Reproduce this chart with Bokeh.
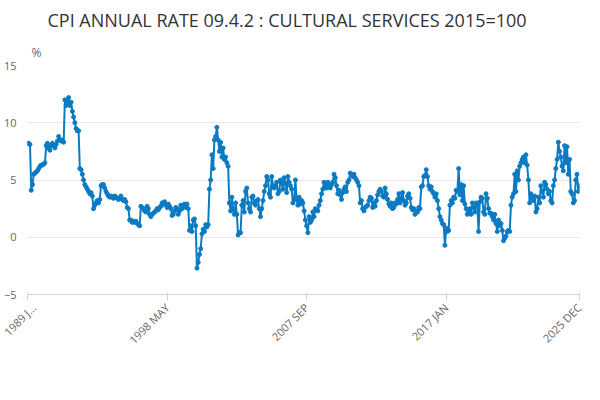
from bokeh.plotting import figure
from bokeh.models import FixedTicker, Legend, LegendItem, Title, ColumnDataSource, Label
from bokeh.embed import file_html
from bokeh.resources import INLINE
import math

values = [
8.2,8.2,8.1,4.1,4.6,5.5,5.6,5.7,5.8,6.0,6.2,6.3,
6.3,6.4,6.5,8.0,8.2,7.8,7.6,8.0,8.2,8.0,7.8,8.1,
8.4,8.8,8.5,8.4,8.5,8.3,12.0,11.5,11.8,12.2,11.5,11.8,
11.0,10.5,10.0,9.5,9.3,9.3,6.0,5.9,5.5,5.0,4.6,4.4,
4.2,4.0,3.8,3.9,3.6,2.5,2.8,3.0,3.2,3.0,3.3,4.5,
4.6,4.6,4.3,4.0,3.8,3.6,3.5,3.6,3.5,3.4,3.6,3.5,
3.4,3.3,3.4,3.6,3.3,3.2,3.3,3.1,2.6,2.5,1.5,1.5,
1.3,1.4,1.3,1.4,1.2,1.1,1.0,2.7,2.6,2.5,2.3,2.2,
2.7,2.5,2.0,1.8,2.0,2.1,2.2,2.3,2.5,2.4,2.6,2.7,
3.0,2.9,3.1,2.8,2.6,2.9,2.7,2.5,1.9,2.0,2.3,2.6,
2.5,2.0,2.3,2.8,2.5,2.7,2.9,2.6,2.9,2.5,0.6,1.0,
0.5,1.5,1.6,1.0,-2.7,-2.2,-1.5,-1.0,0.3,0.7,0.5,1.1,
0.9,1.1,4.2,5.0,7.2,6.0,8.5,8.8,9.6,8.5,7.5,8.3,
7.0,7.8,6.8,7.0,6.5,6.2,3.0,2.3,3.5,2.5,2.0,3.0,
2.0,0.2,0.4,0.4,2.8,3.2,2.2,4.0,4.3,3.0,2.5,2.2,
3.5,3.6,3.0,2.8,3.2,3.3,2.5,1.8,2.5,3.2,4.0,4.5,
5.3,5.0,3.8,3.5,5.3,4.5,4.3,4.5,4.8,3.8,4.0,5.0,
4.7,4.2,5.2,4.7,3.9,5.3,4.8,4.5,4.2,3.0,3.3,5.0,
3.3,2.8,3.5,2.9,3.2,3.0,2.3,1.5,1.0,0.4,1.8,1.3,
1.5,2.2,1.8,2.5,2.4,2.3,2.8,3.2,3.8,4.2,4.8,4.5,
4.3,4.8,4.4,4.3,4.6,4.8,5.5,5.2,4.5,3.8,4.1,3.7,
3.3,3.9,4.2,4.4,4.0,4.8,5.0,5.6,5.5,5.3,5.5,5.2,
5.0,4.8,4.5,3.0,3.2,2.5,2.3,2.6,2.7,2.8,3.2,3.5,
3.4,2.6,3.0,2.7,3.2,3.7,4.0,4.2,4.0,3.6,3.5,4.3,
3.8,3.3,2.9,2.7,3.0,2.5,2.6,3.0,2.9,3.3,3.8,3.0,
3.4,3.9,3.2,2.8,3.0,3.6,3.8,3.4,2.6,2.4,2.5,2.0,
2.3,2.2,2.6,2.5,4.4,4.5,5.3,5.4,5.9,5.3,4.5,4.2,
4.4,4.0,3.8,3.5,3.8,3.2,2.5,1.8,1.5,1.2,1.1,-0.7,
0.8,0.5,0.6,2.8,3.2,3.0,3.5,3.4,4.1,4.0,6.0,3.7,
4.6,3.2,4.5,2.9,2.5,2.0,2.3,2.5,2.0,3.0,2.6,2.2,
3.0,2.8,0.5,3.1,3.5,3.4,2.2,2.0,3.8,3.4,2.5,2.1,
2.1,1.8,1.5,2.0,1.2,0.5,1.5,1.0,1.2,0.6,-0.3,-0.1,
0.1,0.5,0.6,0.5,2.8,3.5,3.8,5.5,4.0,5.8,5.0,6.2,
6.5,6.8,7.0,6.5,7.2,6.3,5.0,3.0,3.8,3.5,3.2,3.6,
2.2,2.5,3.5,3.0,4.5,4.0,3.5,4.8,4.6,4.2,3.8,4.0,
3.2,3.0,4.5,5.0,6.0,6.8,8.3,7.5,7.0,6.2,5.8,8.0,
6.5,7.9,5.5,6.8,4.0,3.8,3.0,3.2,5.0,5.5,4.0,4.5,
]
tick_index = [0, 112, 224, 336, 443]
tick_labels = ["1989 J...", "1998 MAY", "2007 SEP", "2017 JAN", "2025 DEC"]
series_name = "CPI ANNUAL RATE 09.4.2 : CULTURAL SERVICES 2015=100"

x = list(range(len(values)))
src = ColumnDataSource(dict(x=x, y=values))
color = "#0a7bc2"

p = figure(width=584, height=384, output_backend="svg", toolbar_location=None,
           x_range=(0, len(values) - 1), y_range=(-5, 15),
           min_border_left=10, min_border_right=5, min_border_bottom=90,
           min_border_top=5)
p.title.text = "CPI ANNUAL RATE 09.4.2 : CULTURAL SERVICES 2015=100"
p.title.text_font = "Open Sans"
p.title.text_font_size = "18px"
p.title.text_font_style = "normal"
p.title.text_color = "#333333"
p.title.offset = 20
p.add_layout(Title(text="%", text_font="Open Sans", text_font_size="12px",
                   text_font_style="normal", text_color="#666666", offset=4), "above")

r1 = p.line("x", "y", source=src, color=color, line_width=2)
r2 = p.scatter("x", "y", source=src, color=color, size=4)

p.xaxis.ticker = FixedTicker(ticks=tick_index)
p.xaxis.major_label_overrides = {i: l for i, l in zip(tick_index, tick_labels)}
p.xaxis.major_label_orientation = math.pi / 4
p.xaxis.axis_line_color = "#ccd6eb"
p.xaxis.major_tick_line_color = "#ccd6eb"
p.xaxis.minor_tick_line_color = None
p.xaxis.major_label_text_font = "Open Sans"
p.xaxis.major_label_text_font_size = "11px"
p.xaxis.major_label_text_color = "#666666"

p.yaxis.ticker = FixedTicker(ticks=[-5, 0, 5, 10, 15])
p.yaxis.axis_line_color = None
p.yaxis.major_tick_line_color = None
p.yaxis.minor_tick_line_color = None
p.yaxis.major_label_text_font = "Open Sans"
p.yaxis.major_label_text_font_size = "11px"
p.yaxis.major_label_text_color = "#666666"

p.xgrid.grid_line_color = None
p.ygrid.grid_line_color = "#e6e6e6"
p.outline_line_color = None

legend = Legend(items=[LegendItem(label=series_name, renderers=[r1, r2])],
                location=(45, -92), orientation="horizontal",
                label_text_font="Open Sans", label_text_font_size="12px",
                label_text_font_style="bold", label_text_color="#333333",
                border_line_color=None, background_fill_alpha=0, padding=2, margin=0)
p.add_layout(legend, "center")
p.add_layout(Label(x=548, y=-104, x_units="screen", y_units="screen", text="Source:",
                   text_font="Open Sans", text_font_size="12px", text_color="#666666",
                   text_align="right"))

open("out.html", "w").write(file_html(p, INLINE))
